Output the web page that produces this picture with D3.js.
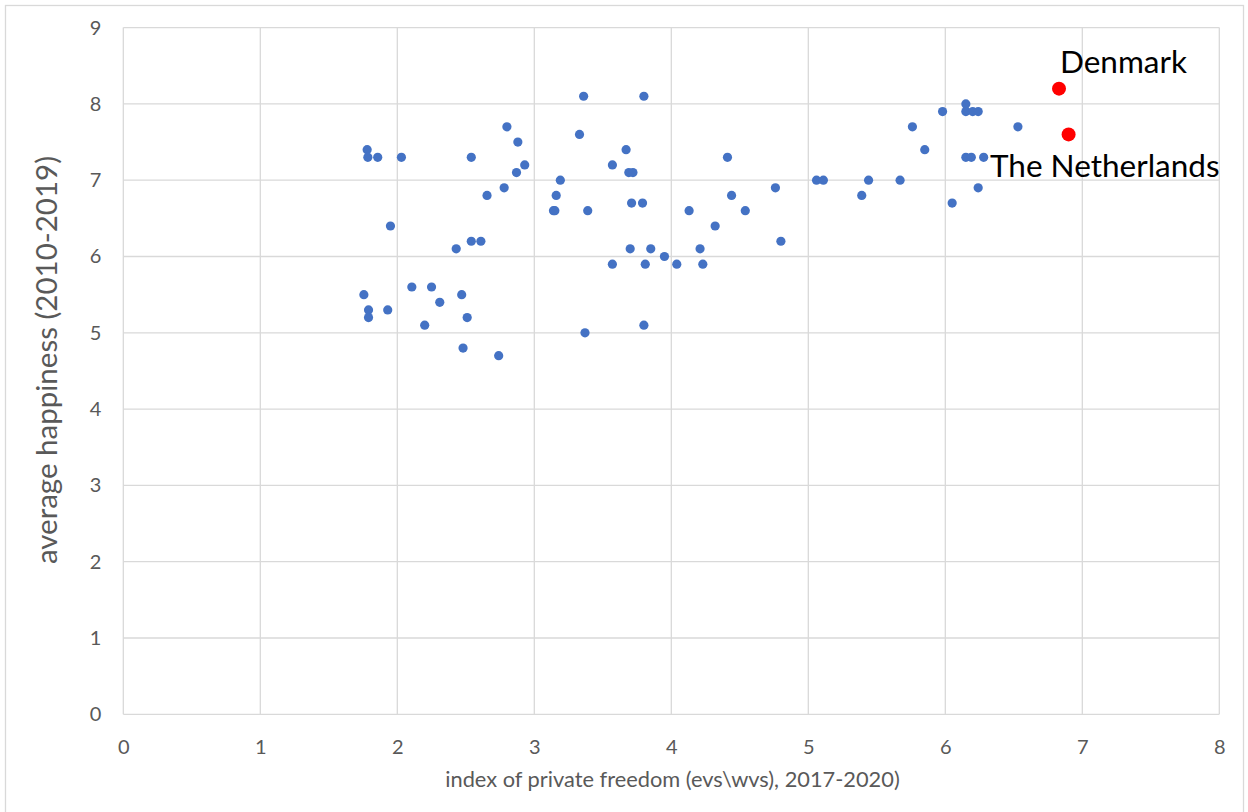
<!DOCTYPE html>
<html>
<head>
<meta charset="utf-8">
<script src="https://cdn.jsdelivr.net/npm/d3@7"></script>
<style>
  html, body { margin: 0; padding: 0; background: #fff; }
  svg { display: block; }
  text { font-family: Lato, "Open Sans", sans-serif; }
</style>
</head>
<body>
<svg id="chart" width="1248" height="812"></svg>
<script>
// ---- data ----
const freedom = [
  3.36, 3.80, 2.80, 3.33, 2.88, 1.78, 3.67, 1.785, 1.857, 2.03, 2.54, 4.41,
  2.93, 3.57, 2.87, 3.69, 3.72, 3.19, 5.06, 5.11, 5.44, 5.67, 2.78, 4.76,
  2.655, 3.16, 4.44, 5.39, 3.71, 3.79, 6.05, 3.14, 3.15, 3.39, 4.13, 4.54,
  1.95, 4.32, 2.54, 2.61, 4.80, 2.43, 3.70, 3.85, 4.21, 3.95, 3.57, 3.81,
  4.04, 4.23, 1.756, 2.47, 2.106, 2.25, 2.31, 1.79, 1.93, 1.79, 2.51, 2.20,
  3.80, 3.37, 2.48, 2.74, 6.15, 5.98, 6.15, 6.20, 6.24, 5.76, 6.53, 5.85,
  6.15, 6.19, 6.28, 6.24
];
const happiness = [
  8.1, 8.1, 7.7, 7.6, 7.5, 7.4, 7.4, 7.3, 7.3, 7.3, 7.3, 7.3,
  7.2, 7.2, 7.1, 7.1, 7.1, 7.0, 7.0, 7.0, 7.0, 7.0, 6.9, 6.9,
  6.8, 6.8, 6.8, 6.8, 6.7, 6.7, 6.7, 6.6, 6.6, 6.6, 6.6, 6.6,
  6.4, 6.4, 6.2, 6.2, 6.2, 6.1, 6.1, 6.1, 6.1, 6.0, 5.9, 5.9,
  5.9, 5.9, 5.5, 5.5, 5.6, 5.6, 5.4, 5.3, 5.3, 5.2, 5.2, 5.1,
  5.1, 5.0, 4.8, 4.7, 8.0, 7.9, 7.9, 7.9, 7.9, 7.7, 7.7, 7.4,
  7.3, 7.3, 7.3, 6.9
];
const highlightNames = ["Denmark", "The Netherlands"];
const highlightFreedom = [6.83, 6.90];
const highlightHappiness = [8.2, 7.6];
const xTicks = [0, 1, 2, 3, 4, 5, 6, 7, 8];
const yTicks = [0, 1, 2, 3, 4, 5, 6, 7, 8, 9];
const xTitle = "index of private freedom (evs\\wvs), 2017-2020)";
const yTitle = "average happiness (2010-2019)";

// ---- layout ----
const svg = d3.select("#chart");
const mLeft = 123.3, mRight = 1219.3, mTop = 27.6, mBottom = 714.3;
const x = d3.scaleLinear().domain([0, 8]).range([mLeft, mRight]);
const y = d3.scaleLinear().domain([0, 9]).range([mBottom, mTop]);
const gridColor = "#d9d9d9";
const textColor = "#595959";

// outer chart border
svg.append("rect")
  .attr("x", 5.5).attr("y", 5.5).attr("width", 1238).attr("height", 820)
  .attr("fill", "none").attr("stroke", gridColor).attr("stroke-width", 1.3);

// gridlines
svg.append("g").selectAll("line").data(xTicks).join("line")
  .attr("x1", d => x(d)).attr("x2", d => x(d))
  .attr("y1", mTop).attr("y2", mBottom)
  .attr("stroke", gridColor).attr("stroke-width", 1.3);
svg.append("g").selectAll("line").data(yTicks).join("line")
  .attr("x1", mLeft).attr("x2", mRight)
  .attr("y1", d => y(d)).attr("y2", d => y(d))
  .attr("stroke", gridColor).attr("stroke-width", 1.3);

// axes (labels only)
const xAxis = svg.append("g").attr("transform", `translate(0,${mBottom})`)
  .call(d3.axisBottom(x).tickValues(xTicks).tickSize(0).tickPadding(26).tickFormat(d3.format("d")));
xAxis.select(".domain").remove();
xAxis.selectAll("text").attr("fill", textColor).style("font-size", "20px")
  .style("font-family", "Lato, 'Open Sans', sans-serif");

const yAxis = svg.append("g").attr("transform", `translate(${mLeft},0)`)
  .call(d3.axisLeft(y).tickValues(yTicks).tickSize(0).tickPadding(22).tickFormat(d3.format("d")));
yAxis.select(".domain").remove();
yAxis.selectAll("text").attr("fill", textColor).style("font-size", "20px")
  .style("font-family", "Lato, 'Open Sans', sans-serif");

// axis titles
svg.append("text")
  .attr("x", 672.5).attr("y", 787)
  .attr("text-anchor", "middle").attr("fill", textColor)
  .style("font-size", "21.8px")
  .text(xTitle);
svg.append("text")
  .attr("transform", `translate(57,360) rotate(-90)`)
  .attr("text-anchor", "middle").attr("fill", textColor)
  .style("font-size", "29.5px")
  .text(yTitle);

// points
const pts = freedom.map((f, i) => ({ f, h: happiness[i] }));
svg.append("g").selectAll("circle").data(pts).join("circle")
  .attr("cx", d => x(d.f)).attr("cy", d => y(d.h)).attr("r", 4.6)
  .attr("fill", "#4472c4");

// highlighted points
const hl = highlightNames.map((n, i) => ({ n, f: highlightFreedom[i], h: highlightHappiness[i] }));
svg.append("g").selectAll("circle").data(hl).join("circle")
  .attr("cx", d => x(d.f)).attr("cy", d => y(d.h)).attr("r", 7)
  .attr("fill", "#ff0000");

// labels
svg.append("text").attr("x", x(highlightFreedom[0]) + 1).attr("y", 72.5)
  .attr("fill", "#000").style("font-size", "31.5px").text(highlightNames[0]);
svg.append("text").attr("x", 990).attr("y", 176.5)
  .attr("fill", "#000").style("font-size", "31.5px").text(highlightNames[1]);
</script>
</body>
</html>
